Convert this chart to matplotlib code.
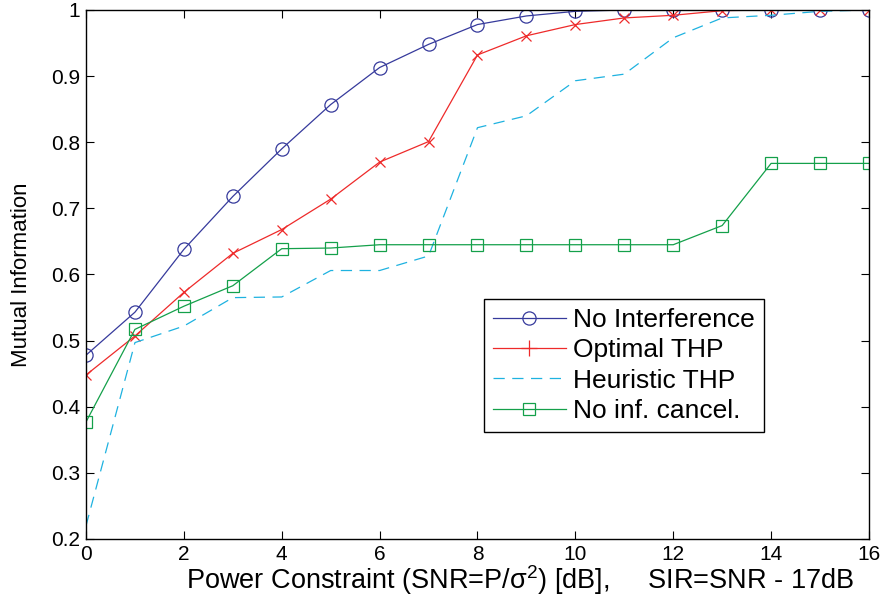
import matplotlib
matplotlib.use("Agg")
from matplotlib import pyplot as plt
from matplotlib.lines import Line2D

plt.rcParams['font.family'] = ['Liberation Sans', 'DejaVu Sans']
plt.rcParams['mathtext.fontset'] = 'custom'
plt.rcParams['mathtext.rm'] = 'Liberation Sans'
plt.rcParams['mathtext.it'] = 'Liberation Sans'

snr = list(range(17))
no_interference = [0.478, 0.543, 0.638, 0.718, 0.790, 0.857, 0.913, 0.948, 0.978,
                   0.991, 0.998, 1.0, 1.0, 1.0, 1.0, 1.0, 1.0]
optimal_thp = [0.448, 0.507, 0.573, 0.632, 0.668, 0.714, 0.770, 0.801, 0.932,
               0.961, 0.978, 0.988, 0.992, 0.999, 1.0, 1.0, 1.0]
heuristic_thp = [0.220, 0.497, 0.522, 0.565, 0.566, 0.606, 0.606, 0.628, 0.822,
                 0.840, 0.893, 0.903, 0.958, 0.988, 0.992, 0.998, 1.0]
no_inf_cancel = [0.377, 0.517, 0.552, 0.583, 0.639, 0.640, 0.645, 0.645, 0.645,
                 0.645, 0.645, 0.645, 0.645, 0.674, 0.768, 0.768, 0.768]

xticks = [0, 2, 4, 6, 8, 10, 12, 14, 16]
yticks = [0.2, 0.3, 0.4, 0.5, 0.6, 0.7, 0.8, 0.9, 1.0]
ytick_labels = ["0.2", "0.3", "0.4", "0.5", "0.6", "0.7", "0.8", "0.9", "1"]

blue = "#363a9c"
red = "#ee2a2a"
cyan = "#1eb2e0"
green = "#14a04a"


def main():
    fig = plt.figure(figsize=(8.84, 6.02), dpi=100)
    ax = fig.add_axes([0.0973, 0.1047, 0.8857, 0.8787])

    ax.plot(snr, no_interference, color=blue, lw=0.9, marker="o", ms=9.5,
            mfc="none", mec=blue, mew=0.9)
    ax.plot(snr, optimal_thp, color=red, lw=0.9, marker="x", ms=7,
            mec=red, mew=0.9)
    ax.plot(snr, heuristic_thp, color=cyan, lw=0.9, dashes=(9, 6))
    ax.plot(snr, no_inf_cancel, color=green, lw=0.9, marker="s", ms=8.5,
            mfc="none", mec=green, mew=0.9)

    ax.set_xlim(0, 16)
    ax.set_ylim(0.2, 1.0)
    ax.set_xticks(xticks)
    ax.set_yticks(yticks)
    ax.set_yticklabels(ytick_labels)
    ax.tick_params(direction="in", top=True, right=True, labelsize=15,
                   length=6, width=0.8, pad=4)
    for s in ax.spines.values():
        s.set_linewidth(1.0)

    ax.set_xlabel("Power Constraint (SNR=P/\u03c3$^2$) [dB],     SIR=SNR - 17dB",
                  fontsize=19.5)
    ax.xaxis.set_label_coords(0.554, -0.045)
    ax.set_ylabel("Mutual Information", fontsize=16, labelpad=14)

    handles = [
        Line2D([], [], color=blue, lw=0.9, marker="o", ms=9.5, mfc="none", mew=0.9),
        Line2D([], [], color=red, lw=0.9, marker="+", ms=11, mew=0.9),
        Line2D([], [], color=cyan, lw=0.9, dashes=(9, 6)),
        Line2D([], [], color=green, lw=0.9, marker="s", ms=8.5, mfc="none", mew=0.9),
    ]
    labels = ["No Interference", "Optimal THP", "Heuristic THP", "No inf. cancel."]
    leg = ax.legend(handles, labels, loc="lower left", bbox_to_anchor=(0.508, 0.202),
                    fontsize=19, fancybox=False, framealpha=1, edgecolor="black",
                    handlelength=2.75, numpoints=1, borderpad=0.35, labelspacing=0.24,
                    handletextpad=0.3, borderaxespad=0)
    leg.get_frame().set_linewidth(1.0)

    fig.savefig("out.png", dpi=100)


if __name__ == '__main__':
    main()
